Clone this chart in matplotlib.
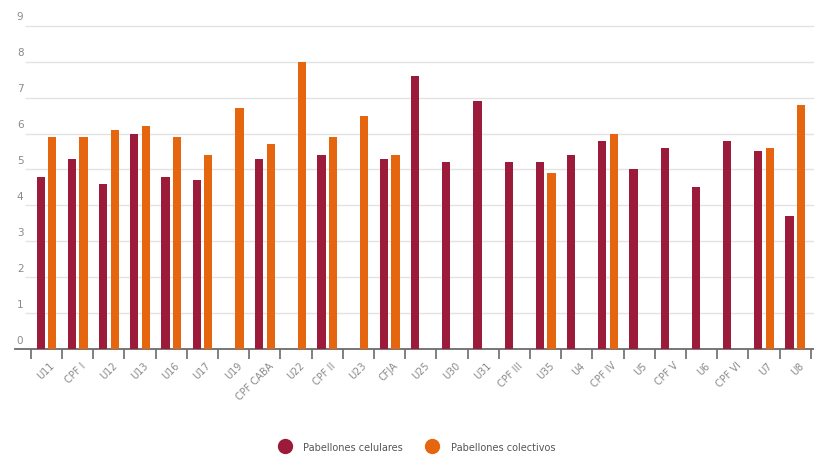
import matplotlib
matplotlib.use("Agg")
import matplotlib.pyplot as plt
from matplotlib.lines import Line2D
import numpy as np

# --- datos -------------------------------------------------------------------
unidades = ["U11", "CPF I", "U12", "U13", "U16", "U17", "U19", "CPF CABA",
            "U22", "CPF II", "U23", "CFJA", "U25", "U30", "U31", "CPF III",
            "U35", "U4", "CPF IV", "U5", "CPF V", "U6", "CPF VI", "U7", "U8"]

celulares = [4.8, 5.3, 4.6, 6.0, 4.8, 4.7, None, 5.3, None, 5.4, None, 5.3,
             7.6, 5.2, 6.9, 5.2, 5.2, 5.4, 5.8, 5.0, 5.6, 4.5, 5.8, 5.5, 3.7]

colectivos = [5.9, 5.9, 6.1, 6.2, 5.9, 5.4, 6.7, 5.7, 8.0, 5.9, 6.5, 5.4,
              None, None, None, None, 4.9, None, 6.0, None, None, None, None,
              5.6, 6.8]

y_ticks = list(range(0, 10))

COLOR_CEL = "#9c1a3a"
COLOR_COL = "#e6650f"
GRIS = "#8a8a8a"

# --- figura ------------------------------------------------------------------
fig = plt.figure(figsize=(8.14, 4.56), dpi=100)
ax = fig.add_axes([0.0184, 0.2325, 0.9816, 0.7237])

x = np.arange(len(unidades))
width = 0.265
off = 0.185


def barras(vals, dx, color):
    xs = [xi + dx for xi, v in zip(x, vals) if v is not None]
    hs = [v for v in vals if v is not None]
    ax.bar(xs, hs, width, color=color, zorder=3)


barras(celulares, -off, COLOR_CEL)
barras(colectivos, off, COLOR_COL)

ax.set_xlim(-1.01, 24.6)
ax.set_ylim(0, 9.19)

# grilla horizontal con etiquetas encima de cada línea
for v in y_ticks:
    if v > 0:
        ax.hlines(v, -0.69, 24.6, color="#e3e3e3", linewidth=1.0, zorder=1)
    ax.text(-0.95, v + 0.12, str(v), ha="left", va="bottom",
            fontsize=7.5, color=GRIS)

for s in ["top", "right", "left"]:
    ax.spines[s].set_visible(False)
ax.spines["bottom"].set_color("#6b6b6b")
ax.spines["bottom"].set_linewidth(1.3)
ax.set_yticks([])

# marcas en los bordes de cada categoría
ax.set_xticks(np.arange(-0.5, len(unidades), 1.0))
ax.set_xticklabels([])
ax.tick_params(axis="x", length=7, width=1.2, color="#6b6b6b")

for xi, lab in zip(x, unidades):
    ax.text(xi + 0.1, -0.3, lab, rotation=45, ha="right", va="top",
            rotation_mode="anchor", fontsize=7, color=GRIS)

handles = [
    Line2D([], [], marker="o", linestyle="", markersize=10,
           markerfacecolor=COLOR_CEL, markeredgecolor=COLOR_CEL),
    Line2D([], [], marker="o", linestyle="", markersize=10,
           markerfacecolor=COLOR_COL, markeredgecolor=COLOR_COL),
]
fig.legend(handles, ["Pabellones celulares", "Pabellones colectivos"],
           loc="center", bbox_to_anchor=(0.51, 0.018), ncol=2, frameon=False,
           fontsize=7, labelcolor="#555555", handletextpad=0.9,
           columnspacing=2.0)

fig.savefig("out.png", dpi=100)
